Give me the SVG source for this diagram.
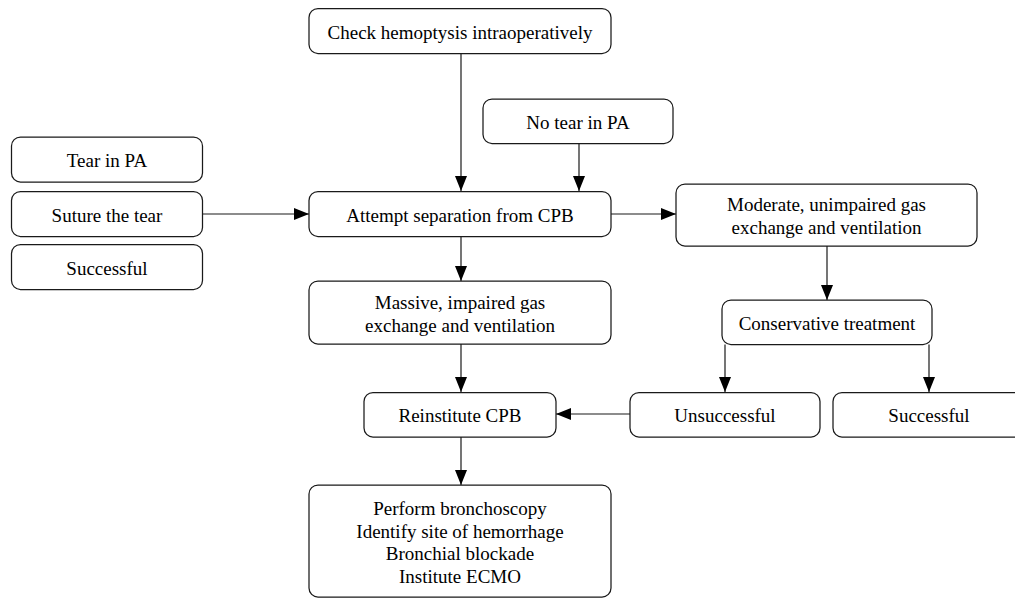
<svg xmlns="http://www.w3.org/2000/svg" width="1015" height="598" viewBox="0 0 1015 598">
  <style>
    .box { fill: #ffffff; stroke: #1a1a1a; stroke-width: 1.25; }
    .lbl { font-family: 'Liberation Serif', 'DejaVu Serif', 'Times New Roman', serif; font-size: 19px; fill: #000000; text-anchor: middle; }
    .edge { stroke: #1a1a1a; stroke-width: 1.2; fill: none; marker-end: url(#arrow); }
  </style>
  <defs>
    <marker id="arrow" markerUnits="userSpaceOnUse" viewBox="0 0 15 12" markerWidth="15" markerHeight="12" refX="15" refY="6" orient="auto">
      <path d="M0,0 L15,6 L0,12 z" fill="#000000"/>
    </marker>
  </defs>
  <rect width="1015" height="598" fill="#ffffff"/>

  <g id="connectors">
    <line class="edge" x1="461" y1="53.5" x2="461" y2="191"/>
    <line class="edge" x1="579" y1="143.5" x2="579" y2="191"/>
    <line class="edge" x1="202" y1="214" x2="309" y2="214"/>
    <line class="edge" x1="611" y1="214" x2="676" y2="214"/>
    <line class="edge" x1="461" y1="236.5" x2="461" y2="281"/>
    <line class="edge" x1="461" y1="344" x2="461" y2="392"/>
    <line class="edge" x1="461" y1="437" x2="461" y2="485"/>
    <line class="edge" x1="827" y1="246" x2="827" y2="300"/>
    <line class="edge" x1="725" y1="344.5" x2="725" y2="392"/>
    <line class="edge" x1="929" y1="344.5" x2="929" y2="392"/>
    <line class="edge" x1="630" y1="414" x2="556" y2="414"/>
  </g>

  <g font-family="Liberation Serif, DejaVu Serif, serif">
  <g id="check">
    <rect class="box" x="309" y="8.5" width="302" height="45" rx="9"/>
    <text class="lbl" x="460" y="38.5">Check hemoptysis intraoperatively</text>
  </g>
  <g id="notear">
    <rect class="box" x="483" y="99" width="190" height="44.5" rx="9"/>
    <text class="lbl" x="578" y="129">No tear in PA</text>
  </g>
  <g id="tear">
    <rect class="box" x="11.5" y="137" width="191" height="45" rx="9"/>
    <text class="lbl" x="107" y="167">Tear in PA</text>
  </g>
  <g id="suture">
    <rect class="box" x="11.5" y="191.5" width="191" height="45" rx="9"/>
    <text class="lbl" x="107" y="221.5">Suture the tear</text>
  </g>
  <g id="successful-left">
    <rect class="box" x="11.5" y="244.5" width="191" height="45" rx="9"/>
    <text class="lbl" x="107" y="274.5">Successful</text>
  </g>
  <g id="attempt">
    <rect class="box" x="309" y="191.5" width="302" height="45" rx="9"/>
    <text class="lbl" x="460" y="221.5">Attempt separation from CPB</text>
  </g>
  <g id="moderate">
    <rect class="box" x="676" y="184" width="301" height="62" rx="9"/>
    <text class="lbl" x="826.5" y="211">Moderate, unimpaired gas</text>
    <text class="lbl" x="826.5" y="233.5">exchange and ventilation</text>
  </g>
  <g id="massive">
    <rect class="box" x="309" y="281" width="302" height="63" rx="9"/>
    <text class="lbl" x="460" y="309">Massive, impaired gas</text>
    <text class="lbl" x="460" y="331.5">exchange and ventilation</text>
  </g>
  <g id="conservative">
    <rect class="box" x="722" y="300" width="210" height="44.5" rx="9"/>
    <text class="lbl" x="827" y="330">Conservative treatment</text>
  </g>
  <g id="reinstitute">
    <rect class="box" x="364" y="392.5" width="192" height="44.5" rx="9"/>
    <text class="lbl" x="460" y="422">Reinstitute CPB</text>
  </g>
  <g id="unsuccessful">
    <rect class="box" x="630" y="392.5" width="190" height="44.5" rx="9"/>
    <text class="lbl" x="725" y="422">Unsuccessful</text>
  </g>
  <g id="successful-right">
    <rect class="box" x="833" y="392.5" width="192" height="44.5" rx="9"/>
    <text class="lbl" x="929" y="422">Successful</text>
  </g>
  <g id="actions">
    <rect class="box" x="309" y="485" width="302" height="112" rx="9"/>
    <text class="lbl" x="460" y="515">Perform bronchoscopy</text>
    <text class="lbl" x="460" y="537.5">Identify site of hemorrhage</text>
    <text class="lbl" x="460" y="560">Bronchial blockade</text>
    <text class="lbl" x="460" y="582.5">Institute ECMO</text>
  </g>
  </g>
</svg>
